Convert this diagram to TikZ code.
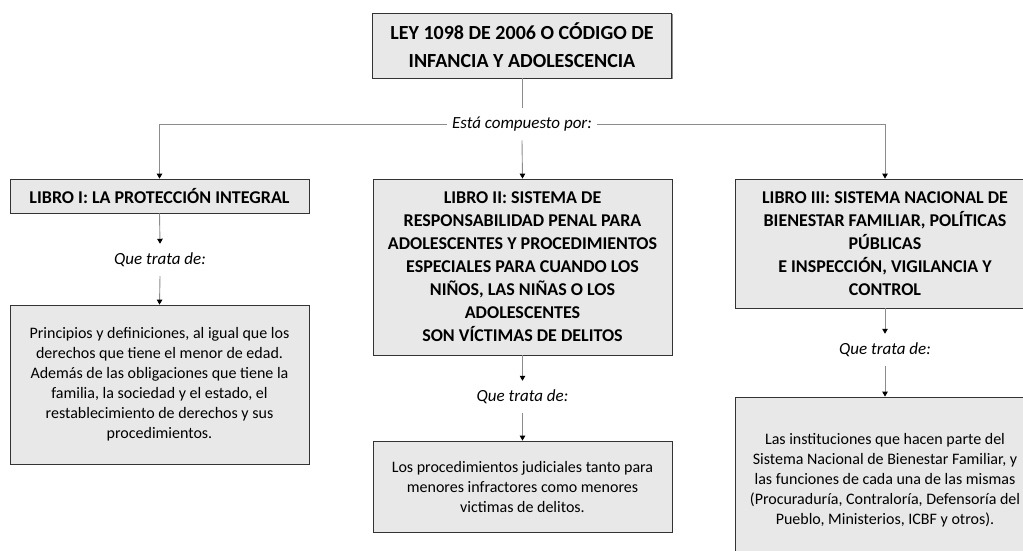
\documentclass[tikz,border=0pt]{standalone}
\usepackage{fontspec}
\setmainfont{Carlito}
\usetikzlibrary{arrows.meta,shadows}
\tikzset{
  box/.style={draw=black!80, line width=0.8pt, fill=black!9, align=center,
    inner sep=0pt, text=black,
    drop shadow={shadow xshift=1.2pt, shadow yshift=-1.2pt, fill=black!45, opacity=1}},
  headbox/.style={box, font=\fontsize{18}{23}\selectfont\bfseries},
  descbox/.style={box, font=\fontsize{16}{20}\selectfont},
  lbl/.style={font=\fontsize{17}{20}\selectfont\itshape, inner xsep=5pt, inner ysep=9pt},
  conn/.style={draw=black!45, line width=0.9pt},
  arr/.style={conn, -{Triangle[length=5pt,width=5.5pt,color=black]}}
}
\begin{document}
\begin{tikzpicture}[x=1pt,y=-1pt]
\clip (0,0) rectangle (1023,550);
\fill[white] (0,0) rectangle (1023,550);

\node[box, font=\fontsize{20}{28}\selectfont\bfseries, minimum width=299pt, minimum height=65pt]
  (t) at (522,45.5) {LEY 1098 DE 2006 O CÓDIGO DE\\INFANCIA Y ADOLESCENCIA};

\node[lbl] (comp) at (522,124) {Está compuesto por:};

\node[headbox, minimum width=299pt, minimum height=34pt] (b1) at (159.5,196)
  {LIBRO I: LA PROTECCIÓN INTEGRAL};
\node[headbox, minimum width=299pt, minimum height=176pt] (b2) at (522.5,267)
  {LIBRO II: SISTEMA DE\\RESPONSABILIDAD PENAL PARA\\ADOLESCENTES Y PROCEDIMIENTOS\\ESPECIALES PARA CUANDO LOS\\NIÑOS, LAS NIÑAS O LOS\\ADOLESCENTES\\SON VÍCTIMAS DE DELITOS};
\node[headbox, minimum width=300pt, minimum height=129pt] (b3) at (885,243.5)
  {LIBRO III: SISTEMA NACIONAL DE\\BIENESTAR FAMILIAR, POLÍTICAS\\PÚBLICAS\\E INSPECCIÓN, VIGILANCIA Y\\CONTROL};

\node[lbl] (q1) at (160,260) {Que trata de:};
\node[lbl] (q2) at (522.5,397) {Que trata de:};
\node[lbl] (q3) at (885,350) {Que trata de:};

\node[descbox, minimum width=299pt, minimum height=159pt] (d1) at (159.5,384.5)
  {Principios y definiciones, al igual que los\\derechos que tiene el menor de edad.\\Además de las obligaciones que tiene la\\familia, la sociedad y el estado, el\\restablecimiento de derechos y sus\\procedimientos.};
\node[descbox, minimum width=299pt, minimum height=91pt] (d2) at (522.5,486.5)
  {Los procedimientos judiciales tanto para\\menores infractores como menores\\victimas de delitos.};
\node[descbox, minimum width=300pt, minimum height=166pt] (d3) at (885,480)
  {Las instituciones que hacen parte del\\Sistema Nacional de Bienestar Familiar, y\\las funciones de cada una de las mismas\\(Procuraduría, Contraloría, Defensoría del\\Pueblo, Ministerios, ICBF y otros).};

\draw[conn] (t.south) -- (comp.north);
\draw[arr] (comp.west) -| (b1.north);
\draw[arr] (comp.east) -| (b3.north);
\draw[arr] (comp.south) -- (b2.north);

\draw[arr] (b1.south) -- (q1.north);
\draw[arr] (q1.south) -- (d1.north);
\draw[arr] (b2.south) -- (q2.north);
\draw[arr] (q2.south) -- (d2.north);
\draw[arr] (b3.south) -- (q3.north);
\draw[arr] (q3.south) -- (d3.north);
\end{tikzpicture}
\end{document}
